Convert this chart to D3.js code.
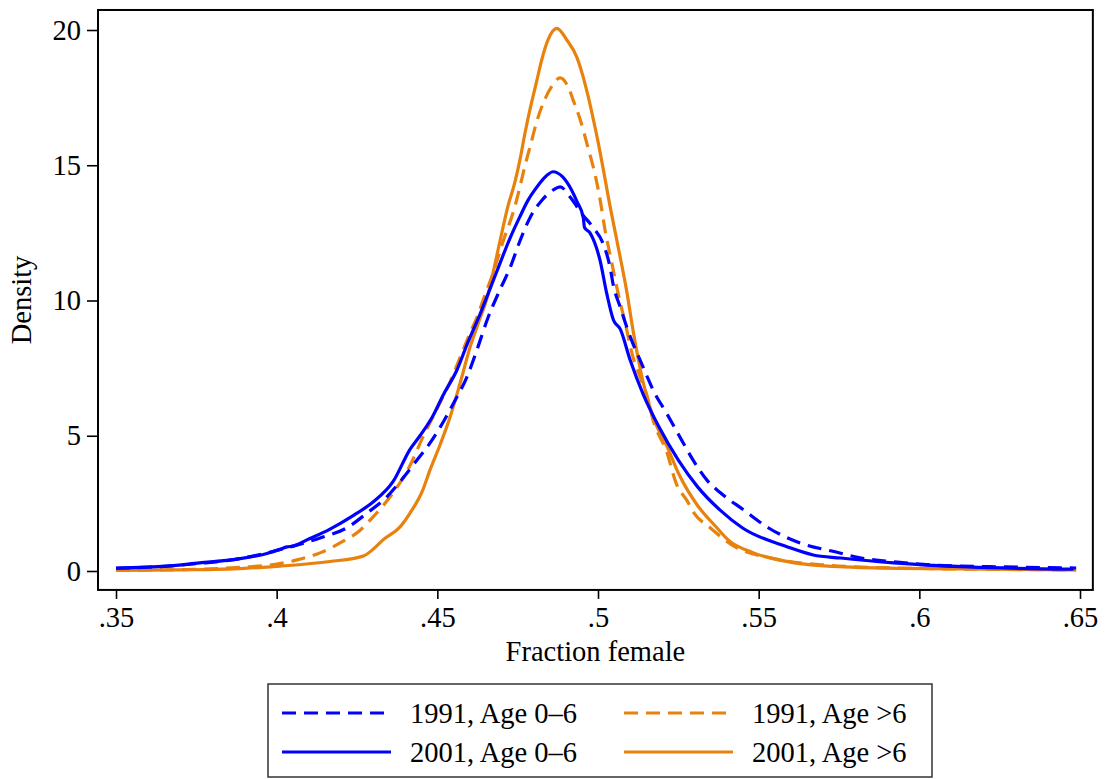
<!DOCTYPE html>
<html>
<head>
<meta charset="utf-8">
<script src="https://cdn.jsdelivr.net/npm/d3@7"></script>
<style>
  html, body { margin: 0; padding: 0; background: #fff; }
  svg { display: block; }
  text { font-family: "Liberation Serif", "Times New Roman", serif; fill: #000; }
</style>
</head>
<body>
<svg id="chart" width="1105" height="779"></svg>
<script>
// ---- data ----
const xTicks = [0.35, 0.40, 0.45, 0.50, 0.55, 0.60, 0.65];
const xTickLabels = [".35", ".4", ".45", ".5", ".55", ".6", ".65"];
const yTicks = [0, 5, 10, 15, 20];
const yTickLabels = ["0", "5", "10", "15", "20"];
const seriesNames = ["1991, Age 0\u20136", "1991, Age >6", "2001, Age 0\u20136", "2001, Age >6"];

const d1991Young = [[.350,0.10],[.366,0.18],[.376,0.28],[.386,0.41],[.397,0.67],[.4051,0.92],[.4135,1.22],[.4219,1.6],[.4281,2.14],[.4343,2.74],[.4384,3.3],[.443,4.0],[.4487,4.9],[.4518,5.5],[.4555,6.3],[.4592,7.17],[.4624,8.2],[.4655,9.28],[.4695,10.4],[.4726,11.2],[.4757,12.2],[.4790,13.1],[.4825,13.7],[.4841,13.9],[.4862,14.1],[.4882,14.2],[.4915,13.8],[.4950,13.2],[.4985,12.7],[.5016,12.1],[.5038,11.2],[.5047,10.6],[.5069,9.76],[.5090,9.0],[.5109,8.4],[.5131,7.8],[.5156,7.1],[.5171,6.7],[.5215,5.8],[.5255,4.95],[.5296,4.1],[.5339,3.36],[.5380,2.9],[.5453,2.26],[.5531,1.59],[.5631,1.03],[.5741,0.70],[.5819,0.48],[.5931,0.33],[.6043,0.22],[.6264,0.15],[.6488,0.11]];

const d1991Old = [[.350,0.03],[.370,0.05],[.3908,0.15],[.3979,0.22],[.4063,0.41],[.4135,0.67],[.4207,1.1],[.4259,1.5],[.4300,2.0],[.4337,2.5],[.4375,3.1],[.4415,3.9],[.4455,4.95],[.4499,6.0],[.4540,7.0],[.4571,7.9],[.4602,8.8],[.4624,9.4],[.4642,10.0],[.4673,11.0],[.4705,12.2],[.4742,13.5],[.4757,14.2],[.4773,15.0],[.4789,15.7],[.4809,16.6],[.4835,17.45],[.4855,17.9],[.4882,18.23],[.4907,17.9],[.4923,17.4],[.4945,16.67],[.4970,15.6],[.4992,14.6],[.5007,13.7],[.5022,12.6],[.5041,11.5],[.5062,10.3],[.5084,9.2],[.5109,7.9],[.5131,7.17],[.5152,6.5],[.5171,5.6],[.5215,4.36],[.5243,3.25],[.5277,2.6],[.5299,2.14],[.5349,1.6],[.5427,0.89],[.5539,0.48],[.5707,0.22],[.5931,0.11],[.6488,0.04]];

const d2001Young = [[.350,0.11],[.366,0.18],[.376,0.30],[.3864,0.42],[.397,0.65],[.401,0.80],[.4032,0.89],[.4051,0.92],[.4094,1.15],[.4166,1.55],[.4238,2.05],[.4300,2.55],[.4362,3.3],[.4415,4.5],[.4446,5.0],[.4487,5.75],[.4518,6.5],[.4561,7.43],[.4592,8.36],[.4633,9.5],[.4686,11.1],[.4726,12.3],[.4757,13.1],[.4782,13.7],[.4804,14.1],[.4830,14.5],[.4860,14.76],[.4890,14.57],[.4918,14.08],[.4935,13.65],[.4954,13.08],[.4958,12.7],[.4975,12.5],[.5006,11.5],[.5027,10.27],[.5048,9.28],[.5069,8.95],[.5100,7.8],[.5140,6.55],[.5190,5.32],[.5250,4.10],[.5310,3.11],[.5380,2.25],[.5450,1.59],[.5590,0.89],[.5670,0.59],[.5755,0.48],[.5920,0.30],[.6150,0.15],[.6480,0.07]];

const d2001Old = [[.350,0.02],[.370,0.04],[.390,0.10],[.401,0.18],[.4166,0.35],[.4269,0.55],[.4300,0.8],[.4331,1.15],[.4384,1.63],[.4415,2.14],[.4455,3.0],[.4477,3.73],[.4508,4.65],[.4540,5.7],[.4571,6.95],[.4602,8.28],[.4633,9.35],[.4655,10.1],[.4673,11.0],[.4695,12.2],[.4720,13.5],[.4742,14.4],[.4757,15.2],[.4773,16.2],[.4789,17.1],[.4809,18.1],[.4825,18.9],[.4845,19.65],[.4872,20.06],[.4903,19.63],[.4934,19.0],[.4954,18.26],[.4970,17.52],[.4986,16.67],[.5001,15.82],[.5017,14.82],[.5032,13.83],[.5059,12.2],[.5090,10.3],[.5109,8.9],[.5140,7.0],[.5171,5.7],[.5215,4.6],[.5255,3.5],[.5308,2.45],[.5370,1.6],[.5405,1.15],[.5484,0.67],[.5598,0.33],[.5765,0.15],[.5931,0.10],[.6488,0.04]];

const BLUE = "#0000ff", ORANGE = "#e8820c";

// ---- layout ----
const svg = d3.select("#chart");
const xDomainFrame = [0.3444, 0.6540];
const yDomainFrame = [-0.70, 20.74];
const x = d3.scaleLinear().domain([0.35, 0.65]).range([116, 1080]);
const y = d3.scaleLinear().domain([0, 20]).range([571, 30]);
const FS = 28.5;

const fx0 = x(xDomainFrame[0]), fx1 = x(xDomainFrame[1]);
const fy0 = y(yDomainFrame[1]), fy1 = y(yDomainFrame[0]);

// curves (draw before frame)
const line = d3.line().x(d => x(d[0])).y(d => y(d[1])).curve(d3.curveMonotoneX);
const series = [
  {data: d2001Old, color: ORANGE, dash: null},
  {data: d1991Old, color: ORANGE, dash: "14,8"},
  {data: d2001Young, color: BLUE, dash: null},
  {data: d1991Young, color: BLUE, dash: "14,8"}
];
svg.append("g").selectAll("path").data(series).join("path")
  .attr("d", s => line(s.data))
  .attr("fill", "none")
  .attr("stroke", s => s.color)
  .attr("stroke-width", 3.2)
  .attr("stroke-linejoin", "round")
  .attr("stroke-dasharray", s => s.dash);

// frame
svg.append("rect")
  .attr("x", fx0).attr("y", fy0)
  .attr("width", fx1 - fx0).attr("height", fy1 - fy0)
  .attr("fill", "none").attr("stroke", "#000").attr("stroke-width", 2);

// y axis
const yAxis = d3.axisLeft(y).tickValues(yTicks)
  .tickFormat((d, i) => yTickLabels[i]).tickSize(11).tickPadding(6);
const gy = svg.append("g").attr("transform", `translate(${fx0},0)`).call(yAxis);
gy.select(".domain").remove();
gy.selectAll(".tick line").attr("stroke", "#000").attr("stroke-width", 1.6);
gy.selectAll(".tick text").style("font-size", FS + "px")
  .style("font-family", '"Liberation Serif", serif').attr("fill", "#000");

// x axis
const xAxis = d3.axisBottom(x).tickValues(xTicks)
  .tickFormat((d, i) => xTickLabels[i]).tickSize(9).tickPadding(8);
const gx = svg.append("g").attr("transform", `translate(0,${fy1})`).call(xAxis);
gx.select(".domain").remove();
gx.selectAll(".tick line").attr("stroke", "#000").attr("stroke-width", 1.6);
gx.selectAll(".tick text").style("font-size", FS + "px")
  .style("font-family", '"Liberation Serif", serif').attr("fill", "#000");

// axis titles
svg.append("text").attr("x", (fx0 + fx1) / 2).attr("y", 661)
  .attr("text-anchor", "middle").style("font-size", FS + "px").text("Fraction female");
svg.append("text")
  .attr("transform", `translate(31,${(fy0 + fy1) / 2}) rotate(-90)`)
  .attr("text-anchor", "middle").style("font-size", FS + "px").text("Density");

// legend
const lg = svg.append("g");
lg.append("rect").attr("x", 268).attr("y", 684).attr("width", 664).attr("height", 93)
  .attr("fill", "#fff").attr("stroke", "#333").attr("stroke-width", 1.5);
const legendItems = [
  {name: seriesNames[0], color: BLUE, dash: "14,8", col: 0, row: 0},
  {name: seriesNames[1], color: ORANGE, dash: "14,8", col: 1, row: 0},
  {name: seriesNames[2], color: BLUE, dash: null, col: 0, row: 1},
  {name: seriesNames[3], color: ORANGE, dash: null, col: 1, row: 1}
];
const colX = [282, 624], rowY = [713, 752];
const li = lg.selectAll("g.item").data(legendItems).join("g").attr("class", "item");
li.append("line")
  .attr("x1", d => colX[d.col]).attr("x2", d => colX[d.col] + 109)
  .attr("y1", d => rowY[d.row]).attr("y2", d => rowY[d.row])
  .attr("stroke", d => d.color).attr("stroke-width", 3.2)
  .attr("stroke-dasharray", d => d.dash);
li.append("text")
  .attr("x", d => colX[d.col] + 128).attr("y", d => rowY[d.row] + 9.5)
  .style("font-size", FS + "px").text(d => d.name);
</script>
</body>
</html>
